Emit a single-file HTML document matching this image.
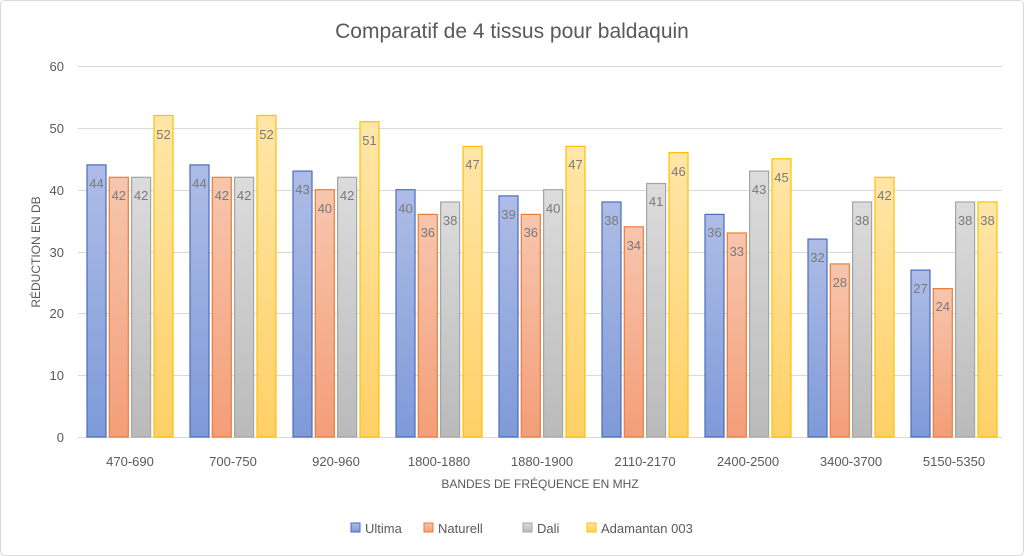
<!DOCTYPE html>
<html><head><meta charset="utf-8"><style>
html,body{margin:0;padding:0;background:#fff;}
svg{display:block;font-family:"Liberation Sans",sans-serif;}
</style></head><body>
<svg width="1024" height="556" viewBox="0 0 1024 556" xmlns="http://www.w3.org/2000/svg">
<defs>
<linearGradient id="gU" x1="0" y1="0" x2="0" y2="1"><stop offset="0" stop-color="#aebde6"/><stop offset="1" stop-color="#7e9ad8"/></linearGradient>
<linearGradient id="gN" x1="0" y1="0" x2="0" y2="1"><stop offset="0" stop-color="#f7c6ae"/><stop offset="1" stop-color="#f39e78"/></linearGradient>
<linearGradient id="gD" x1="0" y1="0" x2="0" y2="1"><stop offset="0" stop-color="#dcdcdc"/><stop offset="1" stop-color="#bababa"/></linearGradient>
<linearGradient id="gA" x1="0" y1="0" x2="0" y2="1"><stop offset="0" stop-color="#ffe6a8"/><stop offset="1" stop-color="#ffd066"/></linearGradient>
</defs>
<rect x="0.5" y="0.5" width="1023" height="555" rx="4" fill="#fff" stroke="#d9d9d9"/>
<text x="512" y="38" text-anchor="middle" font-size="21" fill="#595959">Comparatif de 4 tissus pour baldaquin</text>
<g stroke="#d9d9d9" stroke-width="1">
<line x1="78" y1="66.5" x2="1002" y2="66.5"/><line x1="78" y1="128.5" x2="1002" y2="128.5"/><line x1="78" y1="190.5" x2="1002" y2="190.5"/><line x1="78" y1="252.5" x2="1002" y2="252.5"/><line x1="78" y1="313.5" x2="1002" y2="313.5"/><line x1="78" y1="375.5" x2="1002" y2="375.5"/><line x1="78" y1="437.5" x2="1002" y2="437.5"/>
</g>
<g font-size="13" fill="#595959" text-anchor="end">
<text x="64" y="71">60</text><text x="64" y="133">50</text><text x="64" y="195">40</text><text x="64" y="257">30</text><text x="64" y="318">20</text><text x="64" y="380">10</text><text x="64" y="442">0</text>
</g>
<text transform="translate(40,252) rotate(-90)" text-anchor="middle" font-size="12" fill="#595959">RÉDUCTION EN DB</text>
<g stroke-width="1.2">
<!-- group 0 ox=87 -->
<rect x="87" y="164.9" width="19" height="272.1" fill="url(#gU)" stroke="#4a6cc0"/>
<rect x="109.3" y="177.3" width="19" height="259.7" fill="url(#gN)" stroke="#ed7d31"/>
<rect x="131.6" y="177.3" width="19" height="259.7" fill="url(#gD)" stroke="#a5a5a5"/>
<rect x="154" y="115.5" width="19" height="321.5" fill="url(#gA)" stroke="#ffc000"/>
<!-- 1 ox=190 -->
<rect x="190" y="164.9" width="19" height="272.1" fill="url(#gU)" stroke="#4a6cc0"/>
<rect x="212.3" y="177.3" width="19" height="259.7" fill="url(#gN)" stroke="#ed7d31"/>
<rect x="234.6" y="177.3" width="19" height="259.7" fill="url(#gD)" stroke="#a5a5a5"/>
<rect x="257" y="115.5" width="19" height="321.5" fill="url(#gA)" stroke="#ffc000"/>
<!-- 2 ox=293 -->
<rect x="293" y="171.1" width="19" height="265.9" fill="url(#gU)" stroke="#4a6cc0"/>
<rect x="315.3" y="189.7" width="19" height="247.3" fill="url(#gN)" stroke="#ed7d31"/>
<rect x="337.6" y="177.3" width="19" height="259.7" fill="url(#gD)" stroke="#a5a5a5"/>
<rect x="360" y="121.7" width="19" height="315.3" fill="url(#gA)" stroke="#ffc000"/>
<!-- 3 ox=396 -->
<rect x="396" y="189.7" width="19" height="247.3" fill="url(#gU)" stroke="#4a6cc0"/>
<rect x="418.3" y="214.4" width="19" height="222.6" fill="url(#gN)" stroke="#ed7d31"/>
<rect x="440.6" y="202" width="19" height="235" fill="url(#gD)" stroke="#a5a5a5"/>
<rect x="463" y="146.4" width="19" height="290.6" fill="url(#gA)" stroke="#ffc000"/>
<!-- 4 ox=499 -->
<rect x="499" y="195.9" width="19" height="241.1" fill="url(#gU)" stroke="#4a6cc0"/>
<rect x="521.3" y="214.4" width="19" height="222.6" fill="url(#gN)" stroke="#ed7d31"/>
<rect x="543.6" y="189.7" width="19" height="247.3" fill="url(#gD)" stroke="#a5a5a5"/>
<rect x="566" y="146.4" width="19" height="290.6" fill="url(#gA)" stroke="#ffc000"/>
<!-- 5 ox=602 -->
<rect x="602" y="202" width="19" height="235" fill="url(#gU)" stroke="#4a6cc0"/>
<rect x="624.3" y="226.8" width="19" height="210.2" fill="url(#gN)" stroke="#ed7d31"/>
<rect x="646.6" y="183.5" width="19" height="253.5" fill="url(#gD)" stroke="#a5a5a5"/>
<rect x="669" y="152.6" width="19" height="284.4" fill="url(#gA)" stroke="#ffc000"/>
<!-- 6 ox=705 -->
<rect x="705" y="214.4" width="19" height="222.6" fill="url(#gU)" stroke="#4a6cc0"/>
<rect x="727.3" y="233" width="19" height="204" fill="url(#gN)" stroke="#ed7d31"/>
<rect x="749.6" y="171.1" width="19" height="265.9" fill="url(#gD)" stroke="#a5a5a5"/>
<rect x="772" y="158.8" width="19" height="278.2" fill="url(#gA)" stroke="#ffc000"/>
<!-- 7 ox=808 -->
<rect x="808" y="239.1" width="19" height="197.9" fill="url(#gU)" stroke="#4a6cc0"/>
<rect x="830.3" y="263.9" width="19" height="173.1" fill="url(#gN)" stroke="#ed7d31"/>
<rect x="852.6" y="202" width="19" height="235" fill="url(#gD)" stroke="#a5a5a5"/>
<rect x="875" y="177.3" width="19" height="259.7" fill="url(#gA)" stroke="#ffc000"/>
<!-- 8 ox=911 -->
<rect x="911" y="270.1" width="19" height="166.9" fill="url(#gU)" stroke="#4a6cc0"/>
<rect x="933.3" y="288.6" width="19" height="148.4" fill="url(#gN)" stroke="#ed7d31"/>
<rect x="955.6" y="202" width="19" height="235" fill="url(#gD)" stroke="#a5a5a5"/>
<rect x="978" y="202" width="19" height="235" fill="url(#gA)" stroke="#ffc000"/>
</g>
<g font-size="13" fill="#7a7a7a" text-anchor="middle">
<text x="96.5" y="188">44</text><text x="118.8" y="200">42</text><text x="141.1" y="200">42</text><text x="163.5" y="139">52</text>
<text x="199.5" y="188">44</text><text x="221.8" y="200">42</text><text x="244.1" y="200">42</text><text x="266.5" y="139">52</text>
<text x="302.5" y="194">43</text><text x="324.8" y="213">40</text><text x="347.1" y="200">42</text><text x="369.5" y="145">51</text>
<text x="405.5" y="213">40</text><text x="427.8" y="237">36</text><text x="450.1" y="225">38</text><text x="472.5" y="169">47</text>
<text x="508.5" y="219">39</text><text x="530.8" y="237">36</text><text x="553.1" y="213">40</text><text x="575.5" y="169">47</text>
<text x="611.5" y="225">38</text><text x="633.8" y="250">34</text><text x="656.1" y="206">41</text><text x="678.5" y="176">46</text>
<text x="714.5" y="237">36</text><text x="736.8" y="256">33</text><text x="759.1" y="194">43</text><text x="781.5" y="182">45</text>
<text x="817.5" y="262">32</text><text x="839.8" y="287">28</text><text x="862.1" y="225">38</text><text x="884.5" y="200">42</text>
<text x="920.5" y="293">27</text><text x="942.8" y="311">24</text><text x="965.1" y="225">38</text><text x="987.5" y="225">38</text>
</g>
<g font-size="13" fill="#595959" text-anchor="middle">
<text x="130" y="466">470-690</text><text x="233" y="466">700-750</text><text x="336" y="466">920-960</text><text x="439" y="466">1800-1880</text><text x="542" y="466">1880-1900</text><text x="645" y="466">2110-2170</text><text x="748" y="466">2400-2500</text><text x="851" y="466">3400-3700</text><text x="954" y="466">5150-5350</text>
</g>
<text x="540" y="488" text-anchor="middle" font-size="12" fill="#595959">BANDES DE FRÉQUENCE EN MHZ</text>
<g font-size="13" fill="#595959">
<rect x="351" y="523" width="9" height="9" fill="url(#gU)" stroke="#4a6cc0"/><text x="365" y="533">Ultima</text>
<rect x="424" y="523" width="9" height="9" fill="url(#gN)" stroke="#ed7d31"/><text x="438" y="533">Naturell</text>
<rect x="523" y="523" width="9" height="9" fill="url(#gD)" stroke="#a5a5a5"/><text x="537" y="533">Dali</text>
<rect x="587" y="523" width="9" height="9" fill="url(#gA)" stroke="#ffc000"/><text x="601" y="533">Adamantan 003</text>
</g>
</svg>
</body></html>
